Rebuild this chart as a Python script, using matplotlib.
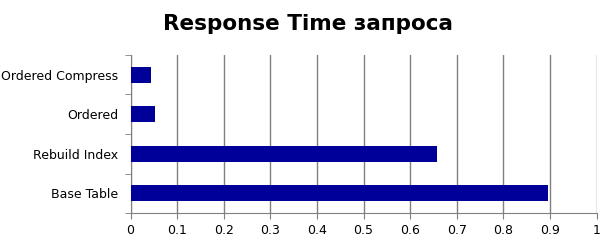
import numpy as np
import matplotlib.pyplot as plt

# data
categories = ['Base Table', 'Rebuild Index', 'Ordered', 'Ordered Compress']
response_time = [0.895, 0.658, 0.052, 0.044]
x_ticks = [0, 0.1, 0.2, 0.3, 0.4, 0.5, 0.6, 0.7, 0.8, 0.9, 1]
x_tick_labels = ['0', '0.1', '0.2', '0.3', '0.4', '0.5', '0.6', '0.7', '0.8', '0.9', '1']

plt.rcParams['font.family'] = ['DejaVu Sans']

fig = plt.figure(figsize=(6.16, 2.47), dpi=100)
ax = fig.add_axes([130.5 / 616, 1 - 213 / 247, 466 / 616, 158 / 247])

y = np.arange(len(categories))
ax.barh(y, response_time, height=0.4, color='#000099', zorder=3)

ax.set_xlim(0, 1)
ax.set_ylim(-0.5, len(categories) - 0.5)
ax.set_xticks(x_ticks)
ax.set_xticklabels(x_tick_labels, fontsize=9)
ax.set_yticks(y)
ax.set_yticklabels(categories, fontsize=9)
ax.set_yticks(np.arange(len(categories) + 1) - 0.5, minor=True)
ax.tick_params(axis='y', which='major', length=0, pad=9)
ax.tick_params(axis='y', which='minor', length=4, color='#808080')
ax.tick_params(axis='x', length=4, color='#808080', pad=4)

ax.grid(axis='x', color='#808080', linewidth=1, zorder=0)
for side in ['top', 'right']:
    ax.spines[side].set_visible(False)
for side in ['left', 'bottom']:
    ax.spines[side].set_color('#808080')

fig.suptitle('Response Time запроса', fontsize=15.5, fontweight='bold', x=0.5, y=0.945)

fig.savefig('out.png', dpi=100)
